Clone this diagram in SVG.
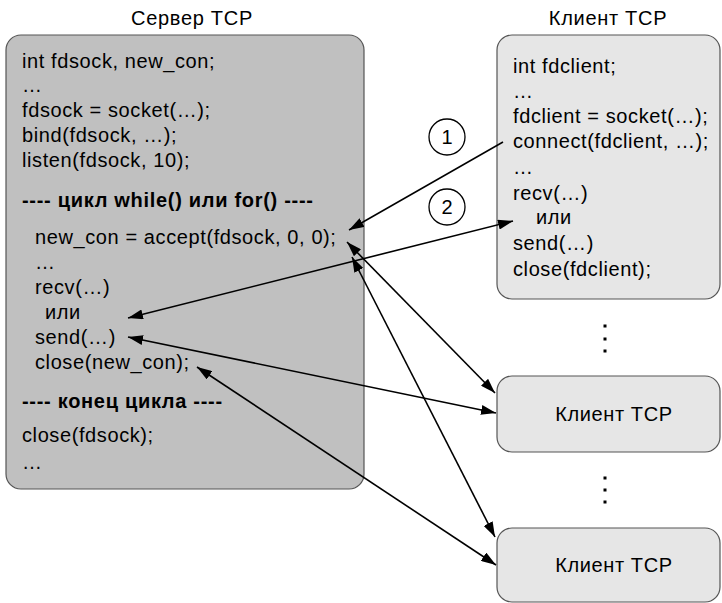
<svg xmlns="http://www.w3.org/2000/svg" width="722" height="603" viewBox="0 0 722 603">
  <style>
    text { font-family: "Liberation Sans", Arial, sans-serif; font-size: 20px; letter-spacing: 0.6px; fill: #000; }
    .b { font-weight: bold; letter-spacing: 0.7px; }
    .title { letter-spacing: 0.7px; text-anchor: middle; }
    .mid { text-anchor: middle; }
    .srv { fill: #c0c0c0; stroke: #555; stroke-width: 1.2; }
    .cli { fill: #e6e6e6; stroke: #555; stroke-width: 1.2; }
    .conn line { stroke: #000; stroke-width: 1.6; fill: none; }
    .num { fill: #fff; stroke: #000; stroke-width: 1.3; }
  </style>
  <defs>
    <marker id="ah" viewBox="0 0 15 10" refX="15" refY="5" markerWidth="15" markerHeight="10" markerUnits="userSpaceOnUse" orient="auto-start-reverse">
      <path d="M0,0 L15,5 L0,10 Z" fill="#000"/>
    </marker>
  </defs>
  <rect width="722" height="603" fill="#fff"/>

  <text class="title" x="192" y="25">Сервер TCP</text>
  <text class="title" x="608" y="25">Клиент TCP</text>

  <!-- server -->
  <g id="server">
    <rect class="srv" x="6" y="35" width="358" height="454" rx="15" ry="15"/>
    <text x="22" y="68">int fdsock, new_con;</text>
    <text x="22" y="92">…</text>
    <text x="22" y="117">fdsock = socket(…);</text>
    <text x="22" y="142">bind(fdsock, …);</text>
    <text x="22" y="167">listen(fdsock, 10);</text>
    <text class="b" x="22" y="207">---- цикл while() или for() ----</text>
    <text x="35" y="244">new_con = accept(fdsock, 0, 0);</text>
    <text x="35" y="269">…</text>
    <text x="35" y="294">recv(…)</text>
    <text x="45" y="319">или</text>
    <text x="35" y="344">send(…)</text>
    <text x="35" y="369">close(new_con);</text>
    <text class="b" x="22" y="408">---- конец цикла ----</text>
    <text x="22" y="442">close(fdsock);</text>
    <text x="22" y="469">…</text>
  </g>

  <!-- client with code -->
  <g id="client1">
    <rect class="cli" x="497" y="35" width="223" height="264" rx="15" ry="15"/>
    <text x="513" y="73">int fdclient;</text>
    <text x="513" y="98">…</text>
    <text x="513" y="123">fdclient = socket(…);</text>
    <text x="513" y="148">connect(fdclient, …);</text>
    <text x="513" y="174">…</text>
    <text x="513" y="200">recv(…)</text>
    <text x="536" y="224">или</text>
    <text x="513" y="250">send(…)</text>
    <text x="513" y="276">close(fdclient);</text>
  </g>

  <g id="client2">
    <rect class="cli" x="497" y="376" width="223" height="76" rx="15" ry="15"/>
    <text class="mid" x="614" y="421">Клиент TCP</text>
  </g>

  <g id="client3">
    <rect class="cli" x="497" y="528" width="223" height="74" rx="15" ry="15"/>
    <text class="mid" x="614" y="572">Клиент TCP</text>
  </g>

  <!-- vertical ellipses between clients -->
  <g id="dots" fill="#000">
    <rect x="603.5" y="324.5" width="3" height="3"/>
    <rect x="603.5" y="337.5" width="3" height="3"/>
    <rect x="603.5" y="349.5" width="3" height="3"/>
    <rect x="603.5" y="476.5" width="3" height="3"/>
    <rect x="603.5" y="488.5" width="3" height="3"/>
    <rect x="603.5" y="500.5" width="3" height="3"/>
  </g>

  <g id="step1">
    <circle class="num" cx="447" cy="137" r="18"/>
    <text class="mid" x="447" y="144" style="letter-spacing:0">1</text>
  </g>
  <g id="step2">
    <circle class="num" cx="447" cy="207" r="18"/>
    <text class="mid" x="447" y="214" style="letter-spacing:0">2</text>
  </g>

  <g class="conn" id="connectors">
    <line x1="503" y1="142" x2="349" y2="230" marker-end="url(#ah)"/>
    <line x1="128" y1="318" x2="513" y2="221" marker-start="url(#ah)" marker-end="url(#ah)"/>
    <line x1="347" y1="242" x2="495" y2="393" marker-start="url(#ah)" marker-end="url(#ah)"/>
    <line x1="352" y1="257" x2="495" y2="537" marker-start="url(#ah)" marker-end="url(#ah)"/>
    <line x1="128" y1="337" x2="496" y2="413" marker-start="url(#ah)" marker-end="url(#ah)"/>
    <line x1="197" y1="367" x2="496" y2="565" marker-start="url(#ah)" marker-end="url(#ah)"/>
  </g>
</svg>
